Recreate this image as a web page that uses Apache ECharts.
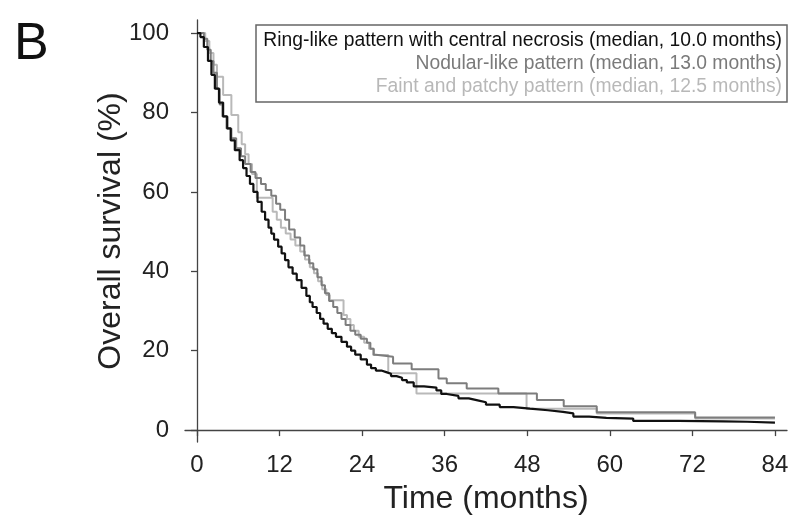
<!DOCTYPE html>
<html>
<head>
<meta charset="utf-8">
<script src="https://cdn.jsdelivr.net/npm/echarts@6/dist/echarts.min.js"></script>
<style>
  html, body { margin: 0; padding: 0; background: #fff; }
  #chart { width: 793px; height: 520px; }
</style>
</head>
<body>
<div id="chart"></div>
<script>
// Kaplan-Meier curves, [month, survival %]
const ringLike = [
  [0, 100], [0.5, 99], [1.0, 96.5], [1.6, 93], [2.1, 89.5], [2.6, 86], [3.2, 82.5], [3.8, 79],
  [4.4, 76], [4.9, 73], [5.5, 70.5], [6.2, 68], [6.7, 66], [7.2, 64], [7.7, 62], [8.2, 60],
  [8.8, 57.5], [9.4, 55], [9.9, 53], [10.4, 51], [10.8, 49.5], [11.2, 48], [11.8, 46.2],
  [12.3, 44.5], [12.8, 42.8], [13.3, 41], [13.9, 39.4], [14.5, 37.8], [15.2, 35.8],
  [15.9, 33.8], [16.4, 32.2], [16.8, 31], [17.4, 29.5], [17.9, 28], [18.4, 26.8], [19.0, 25.5],
  [19.6, 24.4], [20.2, 23.5], [21.0, 22.2], [21.8, 21], [22.4, 20], [23.0, 19], [23.8, 17.8],
  [24.7, 16.5], [25.3, 15.6], [26.0, 15], [26.8, 14.6], [27.5, 14.2], [28.2, 13.6], [29.0, 13.2],
  [29.8, 12.6], [30.5, 12], [31.5, 11], [33.0, 10.7], [34.8, 10], [35.5, 9.1], [36.3, 8.6],
  [38.0, 8], [39.5, 7.5], [40.8, 7], [42.0, 6.4], [44.0, 5.8], [46.0, 5.4], [48.4, 5.0],
  [51.0, 4.6], [53.2, 4.2], [54.7, 3.4], [57.0, 3.1], [59.5, 2.9], [63.4, 2.3], [70.0, 2.2],
  [76.5, 2.1], [80.0, 1.9], [84.0, 1.8]
];
const nodular = [
  [0, 100], [1.0, 98.6], [1.5, 95.8], [2.0, 93], [2.4, 90], [2.9, 86], [3.3, 82], [3.7, 79],
  [4.3, 76], [5.0, 73.5], [5.7, 71], [6.4, 69], [7.0, 67], [7.8, 65], [8.5, 63.5], [9.3, 62],
  [10.0, 60.5], [10.8, 59], [11.5, 57], [12.1, 55.5], [12.8, 53], [13.4, 50.5], [14.2, 48.5],
  [15.0, 46.5], [15.6, 44], [16.3, 42], [16.9, 40.5], [17.5, 38.5], [18.1, 36.5], [18.6, 34.5],
  [19.2, 32.5], [19.8, 31], [20.4, 29.5], [21.0, 28], [21.6, 26.5], [22.3, 25], [23.0, 24],
  [23.8, 23], [24.7, 22], [25.2, 20.5], [25.7, 19], [26.0, 18.5], [28.5, 16.8], [31.2, 15.3],
  [35.1, 13.0], [36.3, 11.8], [39.2, 10.5], [43.8, 9.2], [49.4, 7.6], [53.3, 6.0], [58.1, 4.5],
  [72.4, 3.2], [84.0, 3.2]
];
const faintPatchy = [
  [0, 100], [1.2, 98], [1.8, 95], [2.4, 92], [2.9, 89], [3.8, 84.4], [5.0, 79.4], [6.0, 75],
  [6.5, 72], [7.0, 69.5], [7.5, 67], [8.0, 64.5], [8.7, 58.5], [11.0, 55], [11.6, 53],
  [12.2, 51], [12.9, 49.5], [13.6, 48], [14.3, 46.5], [15.0, 45], [15.7, 43], [16.4, 41],
  [17.0, 39.5], [17.6, 37.5], [18.2, 35.5], [18.8, 34], [19.3, 32.7], [21.3, 29], [21.8, 28],
  [22.3, 26.5], [22.8, 25], [23.5, 23.5], [24.3, 22], [25.0, 20.5], [25.6, 18.9], [27.8, 14.3],
  [31.9, 9.2], [47.9, 5.4], [58.1, 4.2], [72.4, 2.9], [84.0, 2.9]
];

const seriesNames = [
  'Ring-like pattern with central necrosis (median, 10.0 months)',
  'Nodular-like pattern (median, 13.0 months)',
  'Faint and patchy pattern (median, 12.5 months)'
];
const lineColors = ['#111111', '#7d7d7d', '#b9b9b9'];
const textColors = ['#111111', '#7a7a7a', '#b8b8b8'];
const xTicks = [0, 12, 24, 36, 48, 60, 72, 84];
const yTicks = [0, 20, 40, 60, 80, 100];

const font = '"Liberation Sans", Arial, sans-serif';
const chart = echarts.init(document.getElementById('chart'), null, { renderer: 'canvas' });

const curves = [ringLike, nodular, faintPatchy];

chart.setOption({
  animation: false,
  backgroundColor: '#fff',
  grid: { left: 185, right: 6, top: 20, bottom: 78 },
  xAxis: {
    type: 'value',
    min: -1.74,
    max: 85.75,
    name: 'Time (months)',
    nameLocation: 'middle',
    nameGap: 41,
    nameMoveOverlap: false,
    nameTextStyle: { fontFamily: font, fontSize: 32, color: '#222' },
    axisLine: { lineStyle: { color: '#444', width: 1.3 } },
    axisTick: { customValues: xTicks, length: 6, lineStyle: { color: '#444', width: 1.3 } },
    axisLabel: { customValues: xTicks, fontFamily: font, fontSize: 24, color: '#222', margin: 11 },
    splitLine: { show: false }
  },
  yAxis: {
    type: 'value',
    min: -3,
    max: 103.3,
    name: 'Overall survival (%)',
    nameLocation: 'middle',
    nameGap: 58,
    nameMoveOverlap: false,
    nameTextStyle: { fontFamily: font, fontSize: 32, color: '#222' },
    axisLine: { show: true, lineStyle: { color: '#444', width: 1.3 } },
    axisTick: { show: true, customValues: yTicks, length: 6, lineStyle: { color: '#444', width: 1.3 } },
    axisLabel: { customValues: yTicks, fontFamily: font, fontSize: 24, color: '#222', margin: 16 },
    splitLine: { show: false }
  },
  series: curves.map((d, i) => ({
    name: seriesNames[i],
    type: 'line',
    step: 'end',
    data: d,
    symbol: 'none',
    z: 10 - i,
    lineStyle: { color: lineColors[i], width: i === 0 ? 2.2 : 2 }
  })),
  graphic: [
    {
      type: 'text', left: 14, top: 19,
      style: { text: 'B', font: '52px ' + font, fill: '#111' }
    },
    {
      type: 'rect',
      shape: { x: 256, y: 25, width: 531, height: 77 },
      style: { fill: '#fff', stroke: '#666', lineWidth: 1.5 },
      z: 50
    },
    ...seriesNames.map((t, i) => ({
      type: 'text',
      x: 782, y: 41 + i * 22.7,
      z: 51,
      style: {
        text: t, font: '19.3px ' + font, fill: textColors[i],
        textAlign: 'right', textVerticalAlign: 'middle'
      }
    }))
  ]
});
</script>
</body>
</html>
